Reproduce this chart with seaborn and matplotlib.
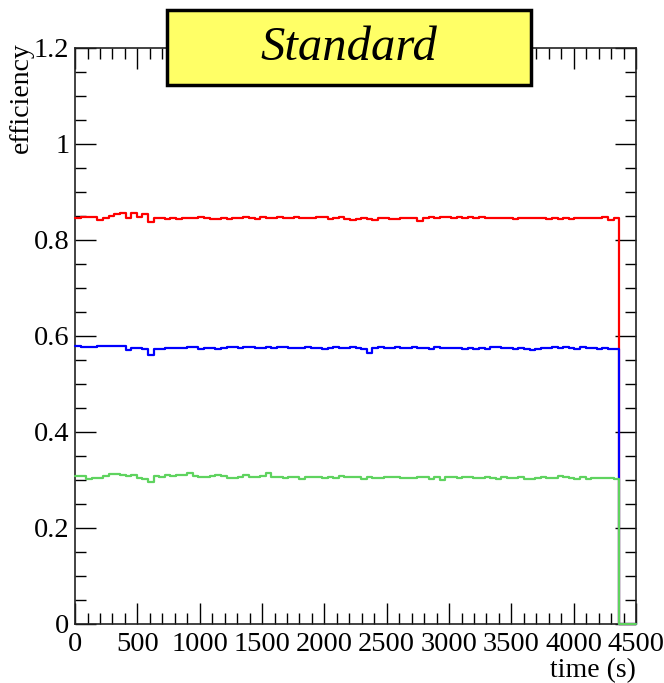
import numpy as np
import pandas as pd
import matplotlib
matplotlib.use("Agg")
import matplotlib.pyplot as plt
from matplotlib.patches import Rectangle
from matplotlib.ticker import MultipleLocator, FuncFormatter
import seaborn as sns

# ---- data (efficiency per time bin, 45 s bins from 0 to 4500 s) ----
bin_width = 45.0
t_min, t_max = 0.0, 4500.0

red_eff = [0.845,0.847,0.847,0.847,0.842,0.845,0.849,0.853,0.855,0.845,0.855,0.847,0.854,0.838,0.845,
           0.845,0.843,0.846,0.844,0.846,0.845,0.846,0.848,0.845,0.844,0.843,0.846,0.843,0.845,0.845,
           0.847,0.845,0.844,0.847,0.845,0.845,0.848,0.845,0.846,0.848,0.846,0.846,0.845,0.847,0.847,
           0.843,0.845,0.847,0.844,0.842,0.844,0.845,0.844,0.842,0.845,0.846,0.844,0.844,0.845,0.846,
           0.846,0.840,0.846,0.847,0.846,0.847,0.848,0.846,0.848,0.845,0.847,0.846,0.848,0.846,0.846,
           0.846,0.846,0.845,0.843,0.845,0.845,0.846,0.845,0.845,0.843,0.846,0.844,0.846,0.843,0.845,
           0.846,0.845,0.845,0.846,0.848,0.841,0.846,0.0,0.0,0.0]
blue_eff = [0.578,0.577,0.577,0.576,0.579,0.579,0.578,0.580,0.580,0.570,0.575,0.575,0.572,0.560,0.572,
            0.573,0.574,0.574,0.574,0.575,0.577,0.577,0.573,0.575,0.575,0.572,0.574,0.576,0.577,0.575,
            0.576,0.576,0.574,0.575,0.577,0.575,0.576,0.576,0.575,0.574,0.575,0.576,0.574,0.575,0.573,
            0.574,0.576,0.575,0.574,0.576,0.575,0.572,0.565,0.575,0.576,0.575,0.574,0.576,0.575,0.574,
            0.577,0.575,0.574,0.572,0.576,0.574,0.575,0.574,0.575,0.573,0.575,0.572,0.574,0.573,0.576,
            0.576,0.574,0.575,0.573,0.575,0.572,0.571,0.573,0.574,0.575,0.576,0.574,0.577,0.575,0.573,
            0.576,0.574,0.574,0.573,0.574,0.572,0.573,0.0,0.0,0.0]
green_eff = [0.309,0.309,0.303,0.305,0.305,0.308,0.313,0.313,0.310,0.309,0.311,0.305,0.303,0.295,0.308,
             0.307,0.310,0.309,0.310,0.311,0.315,0.309,0.307,0.307,0.309,0.310,0.308,0.304,0.305,0.307,
             0.310,0.306,0.307,0.309,0.314,0.307,0.306,0.305,0.306,0.306,0.303,0.306,0.307,0.307,0.305,
             0.306,0.305,0.308,0.306,0.306,0.307,0.302,0.306,0.305,0.305,0.306,0.307,0.306,0.305,0.304,
             0.305,0.307,0.306,0.303,0.306,0.300,0.307,0.306,0.305,0.306,0.306,0.304,0.305,0.306,0.305,
             0.303,0.306,0.305,0.305,0.306,0.303,0.303,0.304,0.306,0.305,0.305,0.308,0.306,0.305,0.303,
             0.306,0.303,0.304,0.304,0.305,0.305,0.302,0.0,0.0,0.0]

series_names = ["red", "blue", "green"]
series_colors = ["#ff0000", "#0000ff", "#5fd35f"]
title_text = "Standard"
x_label = "time (s)"
y_label = "efficiency"

# ---- build step table (left bin edges + final right edge) ----
frames = []
for name, vals in zip(series_names, [red_eff, blue_eff, green_eff]):
    n = len(vals)
    x_edges = t_min + bin_width * np.arange(n + 1)
    y_step = list(vals) + [vals[-1]]
    frames.append(pd.DataFrame({"time": x_edges, "eff": y_step, "series": name}))
df = pd.concat(frames, ignore_index=True)

# ---- style ----
sns.set_style("ticks")
plt.rcParams["font.family"] = ["Liberation Serif", "DejaVu Serif"]
plt.rcParams["text.color"] = "black"
plt.rcParams["axes.labelcolor"] = "black"

fig = plt.figure(figsize=(6.64, 6.83), dpi=100)
ax = fig.add_axes([0.113, 0.0864, 0.845, 0.8436])

for name, col in zip(series_names, series_colors):
    sub = df[df["series"] == name]
    sns.lineplot(data=sub, x="time", y="eff", estimator=None, sort=False,
                 drawstyle="steps-post", color=col, linewidth=1.6, ax=ax,
                 clip_on=False, zorder=3)

ax.set_xlim(t_min, t_max)
ax.set_ylim(0, 1.2)
ax.xaxis.set_major_locator(MultipleLocator(500))
ax.xaxis.set_minor_locator(MultipleLocator(100))
ax.yaxis.set_major_locator(MultipleLocator(0.2))
ax.yaxis.set_minor_locator(MultipleLocator(0.05))
ax.yaxis.set_major_formatter(FuncFormatter(
    lambda v, p: "0" if abs(v) < 1e-9 else f"{v:.1f}".rstrip("0").rstrip(".")))
ax.tick_params(which="both", direction="in", top=True, right=True, labelsize=20.5,
               colors="black", width=1.0)
ax.tick_params(which="major", length=15)
ax.tick_params(axis="x", which="major", pad=6)
ax.tick_params(axis="y", which="major", pad=4)
ax.tick_params(which="minor", length=8)
for s in ax.spines.values():
    s.set_linewidth(1.2)
    s.set_color("#222222")
    s.set_zorder(2)

ax.set_xlabel(x_label, fontsize=20, color="black")
ax.xaxis.set_label_coords(1.0, -0.059)
ax.xaxis.label.set_ha("right")
ax.set_ylabel(y_label, fontsize=20, color="black")
ax.yaxis.set_label_coords(-0.074, 1.01)
ax.yaxis.label.set_va("bottom")
ax.yaxis.label.set_ha("right")

# title pave
fig.patches.append(Rectangle((167 / 664, 1 - 85 / 683), (531 - 167) / 664, 75 / 683,
                             transform=fig.transFigure, facecolor="#ffff66",
                             edgecolor="black", linewidth=2.5, zorder=5))
fig.text(349 / 664, 1 - 48 / 683, title_text, fontsize=35, style="italic",
         color="black", ha="center", va="center", zorder=6)

fig.savefig("out.png", dpi=100)
